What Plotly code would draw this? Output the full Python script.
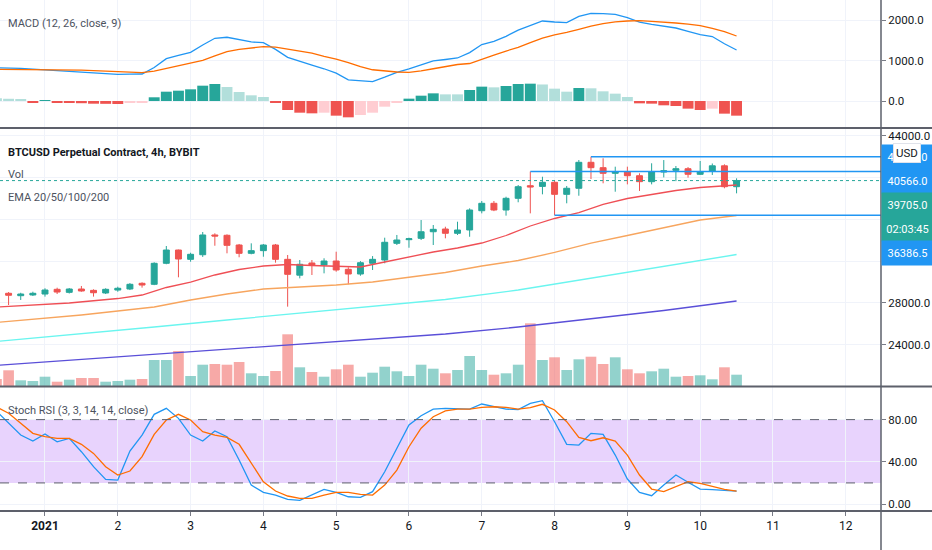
import pandas as pd
import plotly.graph_objects as go

# ---- data ----
times = pd.date_range("2020-12-31 08:00", periods=62, freq="4h")

opens = [28950, 28920, 28690, 28760, 28850, 29300, 29010, 29330, 29200, 28950,
         29230, 29330, 29875, 29780, 31790, 33060, 32170, 32610, 34500, 34470,
         33540, 32745, 33000, 33540, 32170, 30655, 31820, 31630, 32010, 31215,
         30765, 31790, 32105, 33700, 34050, 34180, 34810, 35070, 34660, 34980,
         36820, 37530, 36890, 38010, 39215, 39150, 39540, 38390, 38970, 41455,
         40940, 40400, 40555, 40170, 39600, 40520, 40685, 40840, 40305, 40600,
         41120, 39120]
highs = [29050, 29040, 28970, 29070, 29400, 29455, 29420, 29620, 29300, 29400,
         29550, 29900, 29970, 31885, 33445, 33100, 32800, 34785, 34660, 34560,
         33640, 33700, 33640, 33640, 32585, 32105, 32105, 32270, 32900, 31410,
         32000, 32480, 34240, 34500, 34240, 35930, 35455, 35290, 35770, 37050,
         37750, 37750, 38160, 39280, 40566, 40075, 39760, 39190, 41675, 41990,
         41840, 41035, 41035, 40400, 41360, 41670, 41100, 41000, 41580, 41340,
         41260, 39920]
lows = [28800, 27800, 28280, 28660, 28600, 28850, 28900, 29070, 28600, 28850,
        29070, 29230, 29460, 29700, 31700, 30450, 31940, 32400, 33470, 32745,
        32365, 32650, 32420, 31850, 27640, 30350, 30670, 30830, 30985, 29780,
        30600, 31150, 31790, 33540, 33280, 34020, 33540, 34180, 34500, 34330,
        36570, 36780, 36350, 37630, 36570, 38390, 36386.5, 37530, 38255, 39855,
        39445, 38640, 39345, 38710, 39345, 40010, 39650, 39990, 40240, 40240,
        38970, 38485]
closes = [28880, 28730, 28850, 28920, 29235, 29040, 29330, 29140, 28975, 29300,
          29400, 29780, 29710, 31790, 33060, 32200, 32650, 34500, 34400, 33510,
          32745, 33000, 33540, 32170, 30735, 31695, 31630, 32010, 31150, 30765,
          31845, 32170, 33800, 34020, 34140, 34810, 35040, 34660, 34975, 36890,
          37530, 36890, 38010, 39120, 39090, 39540, 38390, 38970, 41455, 40940,
          40400, 40555, 40170, 39600, 40555, 40650, 40840, 40305, 40555, 41120,
          39120, 39705]
volume = [70, 157, 57, 50, 93, 43, 63, 80, 80, 43, 50, 63, 70, 260, 260, 350,
          100, 213, 220, 213, 240, 127, 100, 150, 517, 187, 140, 93, 167, 213,
          93, 133, 193, 147, 100, 213, 173, 127, 160, 300, 160, 113, 127, 213,
          627, 260, 287, 160, 267, 293, 220, 287, 167, 127, 147, 173, 93, 100,
          107, 67, 187, 113]

ema20_time = ["2020-12-31 08:00", "2021-01-01 08:00", "2021-01-02 00:00",
              "2021-01-02 08:00", "2021-01-02 16:00", "2021-01-03 00:00",
              "2021-01-03 08:00", "2021-01-03 16:00", "2021-01-04 00:00",
              "2021-01-04 08:00", "2021-01-04 16:00", "2021-01-05 00:00",
              "2021-01-05 08:00", "2021-01-05 16:00", "2021-01-06 00:00",
              "2021-01-06 08:00", "2021-01-06 16:00", "2021-01-07 00:00",
              "2021-01-07 08:00", "2021-01-07 16:00", "2021-01-08 00:00",
              "2021-01-08 08:00", "2021-01-08 16:00", "2021-01-09 00:00",
              "2021-01-09 08:00", "2021-01-09 16:00", "2021-01-10 00:00",
              "2021-01-10 08:00", "2021-01-10 12:00"]
ema20 = [27608, 27990, 28420, 28757, 29474, 30000, 30670, 31196, 31530, 31675,
         31580, 31484, 31436, 31915, 32393, 32871, 33254, 33732, 34450, 35359,
         36077, 36650, 37417, 37990, 38373, 38756, 39043, 39234, 39282]

ema50_time = ["2020-12-31 08:00", "2021-01-01 12:00", "2021-01-02 12:00",
              "2021-01-03 00:00", "2021-01-03 12:00", "2021-01-04 00:00",
              "2021-01-04 12:00", "2021-01-05 00:00", "2021-01-05 12:00",
              "2021-01-06 00:00", "2021-01-06 12:00", "2021-01-07 00:00",
              "2021-01-07 12:00", "2021-01-08 00:00", "2021-01-08 12:00",
              "2021-01-09 00:00", "2021-01-09 12:00", "2021-01-10 00:00",
              "2021-01-10 12:00"]
ema50 = [26125, 26842, 27608, 28278, 28852, 29331, 29522, 29714, 30000, 30479,
         30910, 31532, 32058, 32824, 33732, 34450, 35215, 35933, 36363]

ema_long_time = ["2020-12-31 08:00", "2021-01-01 12:00", "2021-01-02 12:00",
                 "2021-01-03 12:00", "2021-01-04 12:00", "2021-01-05 12:00",
                 "2021-01-06 12:00", "2021-01-07 12:00", "2021-01-08 12:00",
                 "2021-01-09 12:00", "2021-01-10 12:00"]
ema100 = [24306, 25025, 25695, 26364, 27034, 27656, 28325, 29235, 30383, 31484, 32632]
ema200 = [22030, 22585, 23063, 23589, 24068, 24546, 25024, 25694, 26460, 27273, 28182]

macd = [825, 820, 810, 790, 770, 755, 740, 720, 690, 675, 662, 665, 670, 830,
        1050, 1130, 1208, 1390, 1556, 1581, 1520, 1465, 1447, 1280, 1084, 980,
        890, 800, 690, 525, 495, 479, 590, 710, 800, 900, 995, 1030, 1067, 1200,
        1400, 1481, 1605, 1760, 1880, 1985, 1960, 1943, 2100, 2176, 2170, 2150,
        2070, 1955, 1900, 1855, 1811, 1730, 1645, 1600, 1420, 1266]
signal = [787, 786, 785, 782, 778, 774, 770, 765, 755, 745, 735, 720, 705, 740,
          805, 868, 935, 1010, 1120, 1223, 1283, 1323, 1347, 1335, 1290, 1250,
          1190, 1110, 1040, 950, 850, 775, 745, 720, 712, 745, 800, 860, 905, 930,
          1040, 1140, 1240, 1330, 1450, 1560, 1640, 1700, 1780, 1860, 1920, 1965,
          1985, 1993, 1975, 1960, 1935, 1905, 1870, 1800, 1720, 1613]
hist = [70, 55, 30, -30, 10, -30, -45, -55, -67, -70, -75, -50, -40, 92, 231,
        256, 290, 380, 422, 347, 223, 141, 99, -41, -223, -290, -306, -290, -364,
        -405, -347, -290, -141, -25, 58, 132, 190, 165, 165, 273, 356, 339, 372,
        422, 430, 410, 306, 231, 322, 315, 240, 182, 99, -58, -66, -107, -124,
        -190, -223, -190, -314, -364]

stoch_k = [88, 77, 65.4, 59.7, 66.4, 59, 62.2, 49.6, 35.4, 23.4, 22.7, 50.2,
           65.4, 85, 90.7, 81.2, 65.4, 59.7, 69.2, 63.8, 41.7, 18, 11.1, 8.5,
           4.4, 3.5, 8.5, 13.9, 11.1, 6.9, 6.3, 11.7, 30.6, 52.8, 74.9, 83.7,
           90, 90.7, 90, 90, 94.8, 92.2, 90, 89.4, 95.4, 97.9, 78, 56.6, 55.9,
           67, 66, 46.4, 23.7, 11.1, 7.9, 18, 27.5, 20.6, 14.2, 13.6, 13, 12.3]
stoch_d = [92, 86, 76.5, 67, 63.8, 62.2, 62.2, 56.6, 48, 35.4, 27.5, 31.3, 44.9,
           66, 79.6, 85, 79.6, 68.5, 65.4, 63.2, 56.6, 38.6, 21.1, 12.3, 7.6,
           5.4, 5.4, 8.5, 11.1, 11, 9.2, 8.5, 18, 32.2, 54.3, 71.8, 82.7, 88.2,
           90, 90, 91.6, 92.2, 91.6, 90, 91.3, 94.5, 89.1, 78, 63.2, 60, 62.8,
           59.7, 46.4, 27.5, 14.2, 11.7, 16.4, 21.1, 19.6, 16.4, 13.9, 12.3]
stoch_upper = 80
stoch_lower = 20

ray_start = ["2021-01-08 12:00", "2021-01-07 16:00", "2021-01-08 00:00"]
ray_price = [41990, 40566, 36386.5]

day_ticks = pd.date_range("2021-01-01", "2021-01-12", freq="D")
day_labels = ["<b>2021</b>"] + [str(d.day) for d in day_ticks[1:]]

# ---- styling ----
FONT = "Roboto, Liberation Sans, sans-serif"
UP, DOWN = "#26a69a", "#ef5350"
GRID = "#f0f3fa"
AXIS = "#787b86"
X0, X1 = "2020-12-31 09:10", "2021-01-12 11:37"
BAR4H = 4 * 3600 * 1000
PLOT_H, PLOT_W = 511, 881


def yp(px):
    return (PLOT_H - px) / PLOT_H


def xp(px):
    return px / PLOT_W


vol_colors = ["rgba(38,166,154,0.5)" if c >= o else "rgba(239,83,80,0.5)"
              for o, c in zip(opens, closes)]
hist_colors = []
for i, h in enumerate(hist):
    prev = hist[i - 1] if i else h
    if h >= 0:
        hist_colors.append("#26a69a" if h > prev else "#b2dfdb")
    else:
        hist_colors.append("#ffcdd2" if h > prev else "#ef5350")

fig = go.Figure()

# MACD panel
fig.add_trace(go.Bar(x=times, y=hist, marker_color=hist_colors, marker_line_width=0,
                     width=BAR4H * 0.9, xaxis="x", yaxis="y"))
fig.add_trace(go.Scatter(x=times, y=macd, mode="lines", line=dict(color="#2196f3", width=1.3),
                         xaxis="x", yaxis="y"))
fig.add_trace(go.Scatter(x=times, y=signal, mode="lines", line=dict(color="#ff6d00", width=1.3),
                         xaxis="x", yaxis="y"))

# price panel: volume underneath, price on top
fig.add_trace(go.Bar(x=times, y=volume, marker_color=vol_colors, marker_line_width=0,
                     width=BAR4H * 0.88, xaxis="x2", yaxis="y2"))
fig.add_trace(go.Scatter(x=ema_long_time, y=ema200, mode="lines",
                         line=dict(color="#5a4fd8", width=1.3), xaxis="x2", yaxis="y4"))
fig.add_trace(go.Scatter(x=ema_long_time, y=ema100, mode="lines",
                         line=dict(color="#6af5ef", width=1.3), xaxis="x2", yaxis="y4"))
fig.add_trace(go.Scatter(x=ema50_time, y=ema50, mode="lines",
                         line=dict(color="#f7a55e", width=1.3), xaxis="x2", yaxis="y4"))
fig.add_trace(go.Scatter(x=ema20_time, y=ema20, mode="lines",
                         line=dict(color="#ef4f55", width=1.3), xaxis="x2", yaxis="y4"))
for t, p in zip(ray_start, ray_price):
    fig.add_trace(go.Scatter(x=[t, X1], y=[p, p], mode="lines",
                             line=dict(color="#2196f3", width=1.5), xaxis="x2", yaxis="y4"))
fig.add_trace(go.Candlestick(x=times, open=opens, high=highs, low=lows, close=closes,
                             increasing=dict(line=dict(color=UP, width=1), fillcolor=UP),
                             decreasing=dict(line=dict(color=DOWN, width=1), fillcolor=DOWN),
                             whiskerwidth=0, xaxis="x2", yaxis="y4"))

# Stoch RSI panel
fig.add_trace(go.Scatter(x=times, y=stoch_k, mode="lines", line=dict(color="#2196f3", width=1.3),
                         xaxis="x3", yaxis="y3"))
fig.add_trace(go.Scatter(x=times, y=stoch_d, mode="lines", line=dict(color="#ff6d00", width=1.3),
                         xaxis="x3", yaxis="y3"))

xcommon = dict(type="date", range=[X0, X1], tickvals=day_ticks, ticktext=day_labels,
               showgrid=True, gridcolor=GRID, zeroline=False, showline=False,
               fixedrange=True, automargin=False)
ycommon = dict(side="right", showgrid=True, gridcolor=GRID, zeroline=False, showline=False,
               ticks="outside", ticklen=4, tickcolor=AXIS, automargin=False,
               tickfont=dict(family=FONT, size=11.5, color="#131722"))

fig.update_layout(
    template="none",
    width=932, height=550,
    margin=dict(l=0, r=51, t=0, b=39),
    paper_bgcolor="white", plot_bgcolor="white",
    showlegend=False, hovermode=False, boxgap=0.3,
    font=dict(family=FONT, size=11.5, color="#131722"),
    xaxis=dict(**xcommon, anchor="y", showticklabels=False),
    xaxis2=dict(**xcommon, anchor="y2", showticklabels=False, rangeslider=dict(visible=False)),
    xaxis3=dict(**xcommon, anchor="y3", showticklabels=True, ticks="outside", ticklen=4,
                tickcolor=AXIS, tickfont=dict(family=FONT, size=12, color="#131722")),
    yaxis=dict(**ycommon, domain=[yp(128), 1], range=[-670, 2506],
               tickvals=[0, 1000, 2000], ticktext=["0.0", "1000.0", "2000.0"]),
    yaxis2=dict(domain=[yp(386), yp(129)], range=[0, 2570], visible=False,
                fixedrange=True, automargin=False),
    yaxis4=dict(**ycommon, overlaying="y2", anchor="x2", range=[20049, 44641],
                tickvals=[24000, 28000, 32000, 36000, 40000, 44000],
                ticktext=["24000.0", "28000.0", "32000.0", "36000.0", "40000.0", "44000.0"]),
    yaxis3=dict(**ycommon, domain=[0, yp(387)], range=[-6.6, 110.9],
                tickvals=[0, 40, 80], ticktext=["0.00", "40.00", "80.00"]),
)

shapes = [
    dict(type="rect", xref="x3 domain", yref="y3", x0=0, x1=1, y0=stoch_lower, y1=stoch_upper,
         fillcolor="#e8d3fd", line=dict(width=0), layer="below"),
    dict(type="line", xref="x3 domain", yref="y3", x0=0, x1=1, y0=stoch_upper, y1=stoch_upper,
         line=dict(color="#5d606b", width=1, dash="dash")),
    dict(type="line", xref="x3 domain", yref="y3", x0=0, x1=1, y0=stoch_lower, y1=stoch_lower,
         line=dict(color="#5d606b", width=1, dash="dash")),
    dict(type="line", xref="x2 domain", yref="y4", x0=0, x1=1, y0=closes[-1], y1=closes[-1],
         line=dict(color=UP, width=1, dash="dot")),
    # panel separators, axes lines
    dict(type="line", xref="paper", yref="paper", x0=0, x1=932 / PLOT_W, y0=yp(128), y1=yp(128),
         line=dict(color="#5d606b", width=2)),
    dict(type="line", xref="paper", yref="paper", x0=0, x1=932 / PLOT_W, y0=yp(386.5), y1=yp(386.5),
         line=dict(color="#5d606b", width=2)),
    dict(type="line", xref="paper", yref="paper", x0=0, x1=932 / PLOT_W, y0=yp(511), y1=yp(511),
         line=dict(color="#5d606b", width=2)),
    dict(type="line", xref="paper", yref="paper", x0=1, x1=1, y0=yp(550), y1=1,
         line=dict(color="#5d606b", width=1.5)),
]
fig.update_layout(shapes=shapes)

labels = [
    ("MACD (12, 26, close, 9)", 23, "#4c525e", False),
    ("BTCUSD Perpetual Contract, 4h, BYBIT", 152, "#131722", True),
    ("Vol", 174.5, "#4c525e", False),
    ("EMA 20/50/100/200", 197, "#4c525e", False),
    ("Stoch RSI (3, 3, 14, 14, close)", 410, "#4c525e", False),
]
for text, y, col, bold in labels:
    fig.add_annotation(xref="paper", yref="paper", x=xp(6), y=yp(y), xanchor="left",
                       yanchor="middle", showarrow=False,
                       text=f"<b>{text}</b>" if bold else text,
                       font=dict(family=FONT, size=11, color=col))

badges = [
    (f"{ray_price[0]:.1f}", 157, "#2196f3"),
    (f"{ray_price[1]:.1f}", 181, "#2196f3"),
    (f"{closes[-1]:.1f}", 205, UP),
    ("02:03:45", 229, UP),
    (f"{ray_price[2]:.1f}", 253, "#2196f3"),
]
for text, y, col in badges:
    fig.add_annotation(xref="paper", yref="paper", x=1, y=yp(y), xanchor="left",
                       yanchor="middle", showarrow=False, text=text, width=49, height=22,
                       bgcolor=col, borderpad=1, align="center",
                       font=dict(family=FONT, size=11, color="white"))
fig.add_annotation(xref="paper", yref="paper", x=xp(906.5), y=yp(153), xanchor="center",
                   yanchor="middle", showarrow=False, text="USD", bgcolor="white",
                   bordercolor="#e0e3eb", borderwidth=1, borderpad=2,
                   font=dict(family=FONT, size=11.5, color="#131722"))

# the page body has a default 8px margin; remove it so the chart fills the window
fig.write_html("out.html", config={"displayModeBar": False},
               post_script="document.body.style.margin='0';")
